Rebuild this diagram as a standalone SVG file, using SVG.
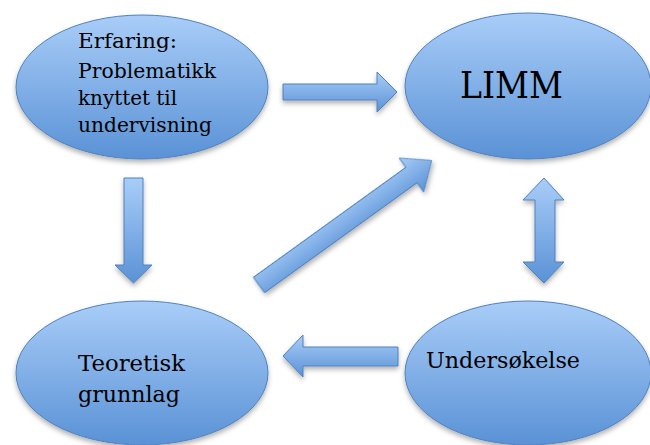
<svg xmlns="http://www.w3.org/2000/svg" width="650" height="445" viewBox="0 0 650 445">
<defs>
<linearGradient id="g" x1="0" y1="0" x2="0" y2="1">
<stop offset="0" stop-color="#a9cdf8"/>
<stop offset="1" stop-color="#5a92d6"/>
</linearGradient>
<filter id="sh" x="-20%" y="-20%" width="140%" height="150%">
<feDropShadow dx="0" dy="3" stdDeviation="2.5" flood-color="#000" flood-opacity="0.3"/>
</filter>
<style>
.n{fill:url(#g);stroke:#4f81bd;stroke-width:1;filter:url(#sh)}
.a{fill:url(#g);stroke:#4f81bd;stroke-width:1;filter:url(#sh)}
.t{font-family:"DejaVu Serif","Liberation Serif",serif;fill:#000}
</style>
</defs>
<rect width="650" height="445" fill="#fff"/>
<g id="connectors">
<polygon class="a" points="283,84 377,84 377,72 397,92 377,112 377,100 283,100"/>
<polygon class="a" points="124,178 143,178 143,265 152,265 133.5,283 115,265 124,265"/>
<polygon class="a" points="544,178 564,200 555,200 555,262 564,262 544,283 523,262 535,262 535,200 523,200"/>
<polygon class="a" points="398,347 303,347 303,335 283,356 303,377 303,366 398,366"/>
<polygon class="a" transform="translate(259,285) rotate(-35.8)" points="0,-9.5 188,-9.5 188,-21 213,0 188,21 188,9.5 0,9.5"/>
</g>
<g id="erfaring">
<ellipse class="n" cx="142" cy="87" rx="126" ry="72"/>
<text class="t" font-size="20" lengthAdjust="spacingAndGlyphs"><tspan x="78" y="48" textLength="99" lengthAdjust="spacingAndGlyphs">Erfaring:</tspan><tspan x="78" y="78" textLength="138" lengthAdjust="spacingAndGlyphs">Problematikk</tspan><tspan x="78" y="105" textLength="99" lengthAdjust="spacingAndGlyphs">knyttet til</tspan><tspan x="78" y="132" textLength="134" lengthAdjust="spacingAndGlyphs">undervisning</tspan></text>
</g>
<g id="limm">
<ellipse class="n" cx="528" cy="86" rx="123" ry="73"/>
<text class="t" x="460" y="98" font-size="38" textLength="103" lengthAdjust="spacingAndGlyphs">LIMM</text>
</g>
<g id="teoretisk">
<ellipse class="n" cx="142" cy="373" rx="126" ry="72"/>
<text class="t" font-size="23"><tspan x="78" y="371" textLength="107" lengthAdjust="spacingAndGlyphs">Teoretisk</tspan><tspan x="78" y="402" textLength="102" lengthAdjust="spacingAndGlyphs">grunnlag</tspan></text>
</g>
<g id="undersokelse">
<ellipse class="n" cx="528" cy="373" rx="123" ry="72"/>
<text class="t" x="426" y="368" font-size="23" textLength="154" lengthAdjust="spacingAndGlyphs">Undersøkelse</text>
</g>
</svg>
